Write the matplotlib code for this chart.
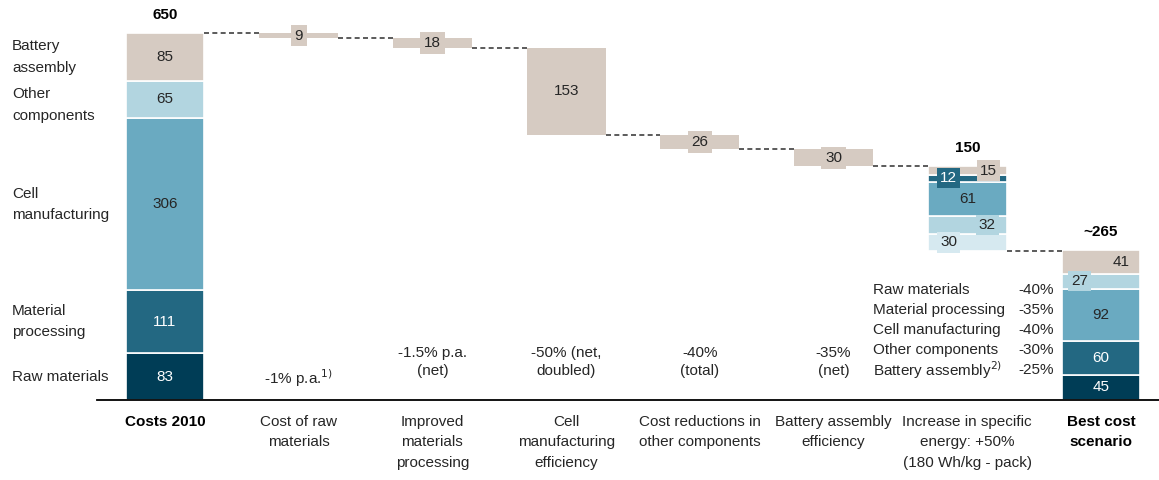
import matplotlib.pyplot as plt

plt.rcParams['font.family'] = ['Liberation Sans', 'DejaVu Sans']

# cost components, bottom to top
segments = ['Raw materials', 'Material processing', 'Cell manufacturing',
            'Other components', 'Battery assembly']
costs_2010 = [83, 111, 306, 65, 85]
best_cost = [45, 60, 92, 27, 41]
component_cuts = ['-40%', '-35%', '-40%', '-30%', '-25%']

# waterfall reductions
step_values = [9, 18, 153, 26, 30]
step_notes = ['-1% p.a.$^{1)}$', '-1.5% p.a.\n(net)', '-50% (net,\ndoubled)',
              '-40%\n(total)', '-35%\n(net)']

# specific energy gain, bottom to top
energy_values = [30, 32, 61, 12, 15]

categories = ['Costs 2010', 'Cost of raw\nmaterials', 'Improved\nmaterials\nprocessing',
              'Cell\nmanufacturing\nefficiency', 'Cost reductions in\nother components',
              'Battery assembly\nefficiency', 'Increase in specific\nenergy: +50%\n(180 Wh/kg - pack)',
              'Best cost\nscenario']

NAVY = '#003d56'
TEAL = '#236882'
BLUE = '#6aaac1'
LIGHT = '#b2d5e0'
BEIGE = '#d6cbc2'
PALE = '#d6e9f0'
TXT = '#262626'
seg_colors = [NAVY, TEAL, BLUE, LIGHT, BEIGE]
energy_colors = [PALE, LIGHT, BLUE, TEAL, BEIGE]

W = 0.59
FS = 11

fig = plt.figure(figsize=(11.59, 4.8), dpi=100)
ax = fig.add_axes([0, 0, 1, 1])
ax.set_xlim(-1.234, 7.434)
ax.set_ylim(-141.7, 708.5)
ax.axis('off')


def txt_color(c):
    return 'white' if c in (NAVY, TEAL) else TXT


def stack(x, values, colors, offsets=None, boxed=False):
    bottom = 0
    for i, (v, c) in enumerate(zip(values, colors)):
        ax.bar(x, v, W, bottom=bottom, color=c, edgecolor='white', linewidth=1.2)
        dx = offsets[i] if offsets else 0
        box = dict(boxstyle='square,pad=0.2', fc=c, ec='none') if boxed and dx else None
        ax.text(x + dx, bottom + v / 2, str(v), ha='center', va='center',
                fontsize=FS, color=txt_color(c), bbox=box)
        bottom += v
    return bottom


# Costs 2010
total = stack(0, costs_2010, seg_colors)
ax.annotate(str(total), (0, total), xytext=(0, 8), textcoords='offset points',
            ha='center', va='bottom', fontsize=FS, fontweight='bold', color='black')

# component labels on the left
left_labels = {'Battery assembly': 'Battery\nassembly', 'Other components': 'Other\ncomponents',
               'Cell manufacturing': 'Cell\nmanufacturing',
               'Material processing': 'Material\nprocessing'}
bottom = 0
for name, v in zip(segments, costs_2010):
    shift = -10 if name == 'Other components' else 0
    ax.text(-1.145, bottom + v / 2 + shift, left_labels.get(name, name), ha='left',
            va='center', fontsize=FS, color=TXT, linespacing=1.65)
    bottom += v

dash = dict(color='#404040', lw=1.2, linestyle=(0, (3, 2)))

# reduction steps
level = total
for i, (v, note) in enumerate(zip(step_values, step_notes), start=1):
    ax.plot([i - 1 + W / 2, i - W / 2], [level, level], **dash)
    ax.bar(i, v, W, bottom=level - v, color=BEIGE, linewidth=0)
    box = dict(boxstyle='square,pad=0.25', fc=BEIGE, ec='none') if v < 40 else None
    ax.text(i, level - v / 2, str(v), ha='center', va='center', fontsize=FS,
            color=TXT, bbox=box)
    note_y = 67 if '\n' in note else 39
    ax.text(i, note_y, note, ha='center', va='center', fontsize=FS, color=TXT,
            linespacing=1.4)
    level -= v

# specific energy step
x = len(step_values) + 1
ax.plot([x - 1 + W / 2, x - W / 2], [level, level], **dash)
bottom = level - sum(energy_values)
offsets = [-0.14, 0.15, 0, -0.14, 0.16]
for v, c, dx in zip(energy_values, energy_colors, offsets):
    ax.bar(x, v, W, bottom=bottom, color=c, edgecolor='white', linewidth=1.2)
    box = dict(boxstyle='square,pad=0.2', fc=c, ec='none') if dx else None
    ax.text(x + dx, bottom + v / 2, str(v), ha='center', va='center', fontsize=FS,
            color=txt_color(c), bbox=box)
    bottom += v
ax.annotate(str(sum(energy_values)), (x, level), xytext=(0, 8), textcoords='offset points',
            ha='center', va='bottom', fontsize=FS, fontweight='bold', color='black')
level -= sum(energy_values)

# best cost scenario
x += 1
ax.plot([x - 1 + W / 2, x - W / 2], [level, level], **dash)
final = stack(x, best_cost, seg_colors, offsets=[0, 0, 0, -0.16, 0.15], boxed=True)
ax.annotate('~' + str(final), (x, final), xytext=(0, 8), textcoords='offset points',
            ha='center', va='bottom', fontsize=FS, fontweight='bold', color='black')

# component reduction list
for k, (name, cut) in enumerate(zip(segments, component_cuts)):
    y = 194.8 - 35.4 * k
    ax.text(5.295, y, name + ('$^{2)}$' if name == 'Battery assembly' else ''),
            ha='left', va='center', fontsize=FS, color=TXT)
    ax.text(6.649, y, cut, ha='right', va='center', fontsize=FS, color=TXT)

# baseline and category labels
ax.axhline(0, xmin=(-0.51 + 1.234) / 8.668, xmax=1, color='black', lw=1.3)
for i, cat in enumerate(categories):
    bold = i in (0, len(categories) - 1)
    ax.text(i, -26, cat, ha='center', va='top', fontsize=FS, color='black' if bold else TXT,
            fontweight='bold' if bold else 'normal', linespacing=1.6)

fig.savefig('out.png', dpi=100)
